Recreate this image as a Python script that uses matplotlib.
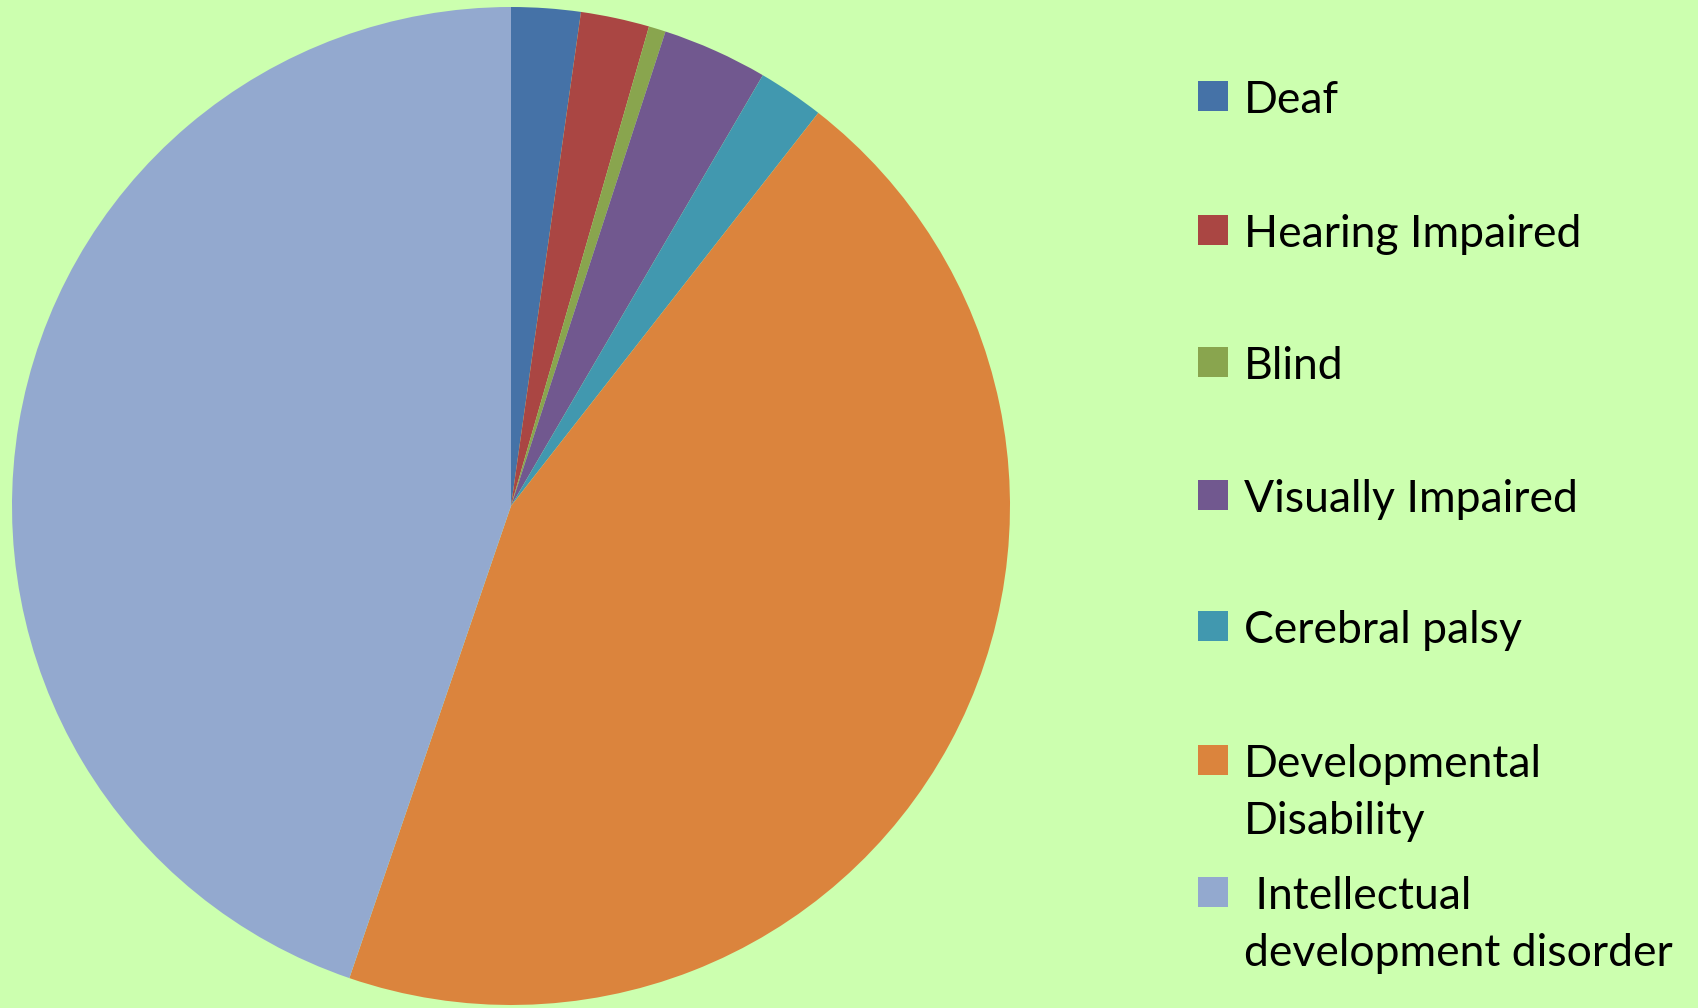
import matplotlib
matplotlib.use("Agg")
import matplotlib.pyplot as plt
from matplotlib.patches import Rectangle

categories = ["Deaf", "Hearing Impaired", "Blind", "Visually Impaired",
              "Cerebral palsy", "Developmental\nDisability",
              " Intellectual\ndevelopment disorder"]
values = [2.24, 2.22, 0.55, 3.41, 2.14, 44.69, 44.75]
colors = ["#4572A7", "#AA4643", "#89A54E", "#71588F", "#4198AF", "#DB843D", "#93A9CF"]

W, H = 1699, 1008
fig = plt.figure(figsize=(W / 100, H / 100), dpi=100, facecolor="#CCFFAF")

# pie axes (center ~ (511,506) px, radius ~499 px)
cx, cy, r = 511, 506, 499
ax = fig.add_axes([(cx - r) / W, (H - cy - r) / H, 2 * r / W, 2 * r / H])
ax.pie(values, colors=colors, startangle=90, counterclock=False, radius=1,
       wedgeprops=dict(linewidth=0))
ax.set_xlim(-1, 1)
ax.set_ylim(-1, 1)
ax.set_aspect("equal")
ax.axis("off")

# legend drawn manually (marker center y in px)
marker_y = [96, 230, 362, 495, 626, 760, 892]
fs = 32
for lab, col, my in zip(categories, colors, marker_y):
    fig.patches.append(Rectangle((1198 / W, (H - my - 15) / H), 30 / W, 30 / H,
                                 transform=fig.transFigure, facecolor=col,
                                 edgecolor="none"))
    for i, ln in enumerate(lab.split("\n")):
        base = my + 17 + i * 57
        fig.text(1244 / W, (H - base) / H, ln, fontsize=fs, family="Lato",
                 color="black", va="baseline", ha="left")

fig.savefig("out.png", dpi=100, facecolor=fig.get_facecolor())
